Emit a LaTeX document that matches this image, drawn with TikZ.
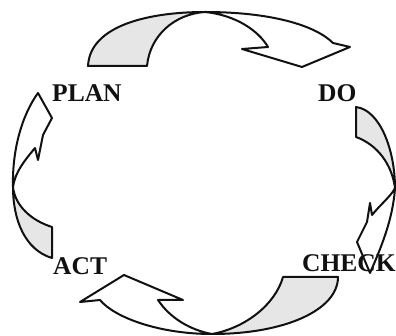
\documentclass[tikz,border=0pt]{standalone}
\usepackage{fontspec}
\setmainfont{Liberation Serif}
\usepackage{xcolor}
\usetikzlibrary{positioning}
\definecolor{ink}{HTML}{111111}
\definecolor{softgrey}{HTML}{E6E6E6}
\tikzset{
    every picture/.style={line cap=round,line join=round},
    backpart/.style={draw=ink,fill=softgrey,line width=2pt},
    frontpart/.style={draw=ink,fill=white,line width=2pt},
    steplabel/.style={inner sep=0pt,text=ink,font=\fontsize{25.5}{26}\selectfont\bfseries}
}
\begin{document}
\begin{tikzpicture}[x=1pt,y=-1pt]
  \useasboundingbox (0,0) rectangle (396,336);
  % meeting points of the ribbons
  \coordinate (T) at (205,12);
  \coordinate (R) at (395,188);
  \coordinate (B) at (212,334);
  \coordinate (L) at (13,187);
  % plan -> do
  \draw[backpart] (88,66) .. controls (90,25) and (150,12) .. (T)
    .. controls (175,14) and (150,35) .. (147,66) -- cycle;
  \draw[frontpart] (T) .. controls (270,12) and (315,25) .. (333,43) -- (350,47)
    -- (302,67) -- (242,49) -- (268,47) .. controls (258,30) and (235,15) .. (T);
  % do -> check
  \draw[backpart] (356,107) .. controls (380,110) and (395,150) .. (R)
    .. controls (392,165) and (378,145) .. (356,137) -- cycle;
  \draw[frontpart] (R) .. controls (393,220) and (380,250) .. (370,273) -- (357,242)
    -- (367,222) -- (370,203) -- (372,215) .. controls (380,205) and (392,195) .. (R);
  % check -> act
  \draw[backpart] (338,277) .. controls (338,310) and (285,334) .. (B)
    .. controls (245,328) and (275,305) .. (283,277) -- cycle;
  \draw[frontpart] (B) .. controls (160,334) and (115,318) .. (100,300) -- (80,302)
    -- (124,275) -- (183,300) -- (158,300) .. controls (170,318) and (190,330) .. (B);
  % act -> plan
  \draw[backpart] (52,258) .. controls (25,250) and (13,220) .. (L)
    .. controls (15,205) and (30,220) .. (52,227) -- cycle;
  \draw[frontpart] (L) .. controls (12,150) and (22,115) .. (38,93) -- (52,118)
    -- (43,135) -- (38,160) -- (35,148) .. controls (25,160) and (15,172) .. (L);
  % labels
  \node[steplabel,anchor=base west] (plan) at (52,102) {PLAN};
  \node[steplabel,anchor=base west] (do) at (318,102) {DO};
  \node[steplabel,anchor=base west] (check) at (302,272) {CHECK};
  \node[steplabel,anchor=base west] (act) at (53,275) {ACT};
\end{tikzpicture}
\end{document}
